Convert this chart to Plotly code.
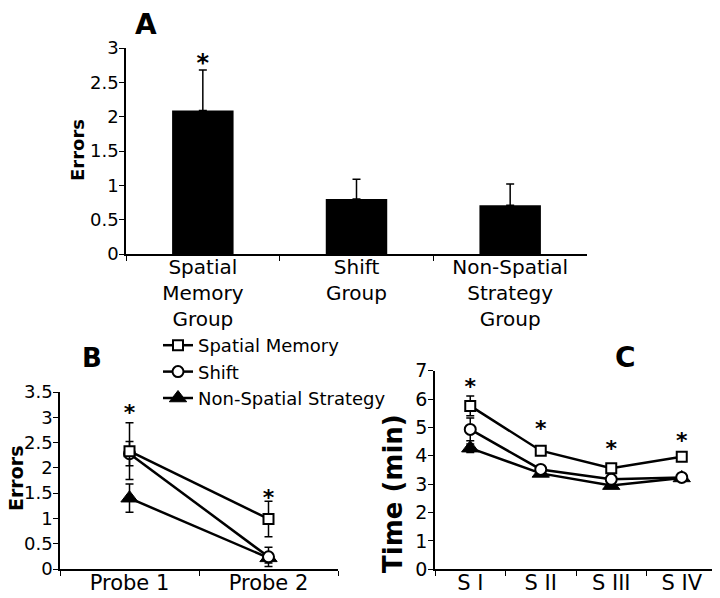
import plotly.graph_objects as go

# ---------------- data ----------------
groups_A = ["Spatial<br>Memory<br>Group", "Shift<br>Group", "Non-Spatial<br>Strategy<br>Group"]
errors_A = [2.09, 0.80, 0.71]
sem_A = [0.59, 0.29, 0.31]
stars_A = [2.75, None, None]

probes_B = ["Probe 1", "Probe 2"]
spatial_B = [2.33, 0.99]
spatial_B_sem = [0.56, 0.35]
shift_B = [2.28, 0.24]
shift_B_sem = [0.24, 0.19]
nonspatial_B = [1.40, 0.22]
nonspatial_B_sem = [0.28, 0.10]
stars_B = [3.06, 1.38]

sessions_C = ["S I", "S II", "S III", "S IV"]
spatial_C = [5.76, 4.18, 3.56, 3.97]
spatial_C_sem = [0.35, 0.12, 0.12, 0.12]
shift_C = [4.93, 3.52, 3.17, 3.24]
shift_C_sem = [0.40, 0.10, 0.10, 0.08]
nonspatial_C = [4.27, 3.38, 2.95, 3.22]
nonspatial_C_sem = [0.15, 0.08, 0.08, 0.06]
stars_C = [6.38, 4.90, 4.19, 4.46]

series_names = ["Spatial Memory", "Shift", "Non-Spatial Strategy"]

FONT = "DejaVu Sans, Liberation Sans, Arial, sans-serif"
# the page body has an 8px margin, so the figure is drawn 8px in from the window corner
OFF = 8
W, H = 720 - OFF, 598 - OFF

fig = go.Figure()

# ---------------- Panel A ----------------
fig.add_trace(go.Bar(
    x=groups_A, y=errors_A, width=0.4,
    marker=dict(color="black", line=dict(width=0)),
    error_y=dict(type="data", symmetric=False, array=sem_A, arrayminus=[0] * len(sem_A),
                 color="black", thickness=1.5, width=4),
    showlegend=False, xaxis="x", yaxis="y"))
fig.add_trace(go.Scatter(
    x=groups_A, y=stars_A, mode="text", text=["*" if s is not None else "" for s in stars_A],
    textfont=dict(size=24, color="black", family=FONT, weight="bold"), textposition="middle center",
    showlegend=False, cliponaxis=False, xaxis="x", yaxis="y"))

# ---------------- Panels B and C ----------------
styles = {
    "Spatial Memory": dict(symbol="square", size=10, color="white", line=dict(color="black", width=2)),
    "Shift": dict(symbol="circle", size=11, color="white", line=dict(color="black", width=2)),
    "Non-Spatial Strategy": dict(symbol="triangle-up", size=15, color="black", line=dict(color="black", width=1)),
}

panel_B = {"Spatial Memory": (spatial_B, spatial_B_sem),
           "Shift": (shift_B, shift_B_sem),
           "Non-Spatial Strategy": (nonspatial_B, nonspatial_B_sem)}
panel_C = {"Spatial Memory": (spatial_C, spatial_C_sem),
           "Shift": (shift_C, shift_C_sem),
           "Non-Spatial Strategy": (nonspatial_C, nonspatial_C_sem)}

# draw bottom-most first: Non-Spatial, Shift, Spatial Memory
for name in reversed(series_names):
    vals, sem = panel_B[name]
    fig.add_trace(go.Scatter(
        x=probes_B, y=vals, name=name, mode="lines+markers",
        line=dict(color="black", width=2.5), marker=styles[name],
        error_y=dict(type="data", array=sem, color="black", thickness=1.5, width=4),
        cliponaxis=False, showlegend=True, xaxis="x2", yaxis="y2"))
for name in reversed(series_names):
    vals, sem = panel_C[name]
    fig.add_trace(go.Scatter(
        x=sessions_C, y=vals, name=name, mode="lines+markers",
        line=dict(color="black", width=2.5), marker=styles[name],
        error_y=dict(type="data", array=sem, color="black", thickness=1.5, width=4),
        cliponaxis=False, showlegend=False, xaxis="x3", yaxis="y3"))

fig.add_trace(go.Scatter(
    x=probes_B, y=stars_B, mode="text", text=["*"] * len(stars_B),
    textfont=dict(size=22, color="black", family=FONT, weight="bold"), textposition="middle center",
    showlegend=False, cliponaxis=False, xaxis="x2", yaxis="y2"))
fig.add_trace(go.Scatter(
    x=sessions_C, y=stars_C, mode="text", text=["*"] * len(stars_C),
    textfont=dict(size=22, color="black", family=FONT, weight="bold"), textposition="middle center",
    showlegend=False, cliponaxis=False, xaxis="x3", yaxis="y3"))

# ---------------- axes ----------------
def xax(domain, anchor, size, n):
    return dict(domain=domain, anchor=anchor, type="category", range=[-0.5, n - 0.5],
                showline=True, linecolor="black",
                linewidth=1.5, ticks="outside", ticklen=5, tickwidth=1.2, tickcolor="black",
                tickson="boundaries", showgrid=False, zeroline=False, automargin=False,
                ticklabelstandoff=-6,
                tickfont=dict(size=size, color="black", family=FONT), fixedrange=True)

def yax(domain, anchor, rng, dtick, size):
    return dict(domain=domain, anchor=anchor, range=rng, dtick=dtick, showline=True, linecolor="black",
                linewidth=1.5, ticks="outside", ticklen=5, tickwidth=1.2, tickcolor="black",
                showgrid=False, zeroline=False, automargin=False,
                ticklabelstandoff=-3,
                tickfont=dict(size=size, color="black", family=FONT), fixedrange=True)

def px_x(p):
    return (p - OFF) / W

def px_y(p):
    return 1 - (p - OFF) / H

fig.update_layout(
    template="none",
    width=W, height=H,
    margin=dict(l=0, r=0, t=0, b=0, autoexpand=False),
    paper_bgcolor="white", plot_bgcolor="white",
    font=dict(family=FONT, color="black"),
    xaxis=xax([px_x(126), px_x(587)], "y", 20, len(groups_A)),
    yaxis=yax([px_y(254), px_y(48)], "x", [0, 3], 0.5, 18),
    xaxis2=xax([px_x(60), px_x(338)], "y2", 21, len(probes_B)),
    yaxis2=yax([px_y(569), px_y(392)], "x2", [0, 3.5], 0.5, 18),
    xaxis3=xax([px_x(435), px_x(717)], "y3", 21, len(sessions_C)),
    yaxis3=yax([px_y(569.3), px_y(370.7)], "x3", [0, 7], 1, 19),
    legend=dict(x=px_x(158), y=px_y(327), xanchor="left", yanchor="top",
                traceorder="reversed", bgcolor="rgba(0,0,0,0)", borderwidth=0,
                font=dict(size=18, color="black", family=FONT), itemwidth=30),
    showlegend=True,
)

annotations = [
    dict(text="<b>A</b>", x=px_x(146), y=px_y(24), font=dict(size=28)),
    dict(text="<b>B</b>", x=px_x(92), y=px_y(358), font=dict(size=26)),
    dict(text="<b>C</b>", x=px_x(625), y=px_y(357), font=dict(size=28)),
    dict(text="<b>Errors</b>", x=px_x(77), y=px_y(150), font=dict(size=18), textangle=-90),
    dict(text="<b>Errors</b>", x=px_x(16), y=px_y(479), font=dict(size=19), textangle=-90),
    dict(text="<b>Time (min)</b>", x=px_x(393), y=px_y(494), font=dict(size=26), textangle=-90),
]
for a in annotations:
    a.update(xref="paper", yref="paper", showarrow=False, xanchor="center", yanchor="middle")
    a["font"].update(color="black", family=FONT)
fig.update_layout(annotations=annotations)

fig.write_html("out.html")
